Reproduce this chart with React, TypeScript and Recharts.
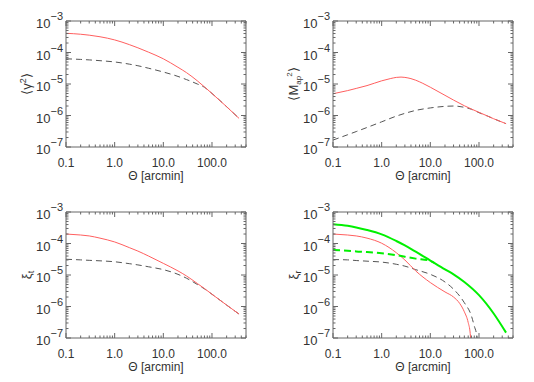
import React from "react";
import { LineChart, Line, XAxis, YAxis, Label } from "recharts";

type Pt = { x: number; y: number };

// theta [arcmin] samples and values
const thetaGamma = [0.1, 0.2, 0.3, 0.5, 1, 2, 3, 5, 10, 20, 30, 50, 70, 100, 200, 360];
const gammaSolid = [4.07e-4, 3.8e-4, 3.55e-4, 3.16e-4, 2.51e-4, 1.78e-4, 1.41e-4, 1.02e-4, 6.31e-5, 3.39e-5, 2.29e-5, 1.26e-5, 8.1e-6, 5.0e-6, 1.9e-6, 8.1e-7];
const gammaDashed = [6.31e-5, 6.03e-5, 5.82e-5, 5.5e-5, 5.01e-5, 4.27e-5, 3.8e-5, 3.16e-5, 2.4e-5, 1.74e-5, 1.38e-5, 1.0e-5, 7.9e-6, 5.0e-6, 1.9e-6, 8.1e-7];

const thetaMap = [0.1, 0.2, 0.3, 0.5, 1, 1.5, 2, 2.5, 3, 4, 5, 7, 10, 20, 30, 50, 100, 150, 200, 360];
const mapSolid = [4.9e-6, 6.17e-6, 7.24e-6, 8.9e-6, 1.26e-5, 1.48e-5, 1.62e-5, 1.66e-5, 1.62e-5, 1.48e-5, 1.32e-5, 1.05e-5, 7.9e-6, 4.37e-6, 3.09e-6, 2.04e-6, 1.26e-6, 9.6e-7, 7.9e-7, 5.5e-7];
const thetaMapDash = [0.1, 0.2, 0.3, 0.5, 1, 2, 3, 5, 10, 20, 30, 50, 70, 100, 150, 200, 360];
const mapDashed = [1.66e-7, 2.45e-7, 3.09e-7, 4.17e-7, 6.3e-7, 9.55e-7, 1.17e-6, 1.45e-6, 1.74e-6, 1.95e-6, 2.0e-6, 1.82e-6, 1.58e-6, 1.23e-6, 9.6e-7, 7.9e-7, 5.5e-7];

const thetaXit = [0.1, 0.2, 0.3, 0.5, 1, 2, 3, 5, 10, 20, 30, 50, 70, 100, 200, 360];
const xitSolid = [2.0e-4, 1.86e-4, 1.74e-4, 1.48e-4, 1.12e-4, 7.4e-5, 5.75e-5, 3.98e-5, 2.34e-5, 1.35e-5, 9.3e-6, 5.37e-6, 3.72e-6, 2.45e-6, 1.11e-6, 5.75e-7];
const xitDashed = [3.16e-5, 3.02e-5, 2.92e-5, 2.82e-5, 2.63e-5, 2.29e-5, 2.09e-5, 1.82e-5, 1.48e-5, 1.05e-5, 7.9e-6, 5.0e-6, 3.63e-6, 2.45e-6, 1.11e-6, 5.75e-7];

const thetaXirGreen = [0.1, 0.2, 0.3, 0.5, 1, 2, 3, 5, 10, 20, 30, 50, 100, 200, 360];
const xirGreen = [4.07e-4, 3.63e-4, 3.24e-4, 2.69e-4, 1.95e-4, 1.2e-4, 8.7e-5, 5.5e-5, 2.88e-5, 1.51e-5, 1.05e-5, 6.0e-6, 2.29e-6, 6.0e-7, 1.48e-7];
const thetaXirGreenDash = [0.1, 0.2, 0.3, 0.5, 1, 2, 3, 5, 10, 12];
const xirGreenDashed = [6.17e-5, 5.89e-5, 5.62e-5, 5.37e-5, 4.9e-5, 4.27e-5, 3.8e-5, 3.31e-5, 2.82e-5, 2.45e-5];
const thetaXirRed = [0.1, 0.2, 0.3, 0.5, 1, 2, 3, 5, 10, 20, 30, 40, 50, 60, 66, 70];
const xirRed = [2.0e-4, 1.86e-4, 1.74e-4, 1.48e-4, 1.02e-4, 5.1e-5, 3.0e-5, 1.35e-5, 5.75e-6, 2.9e-6, 2.0e-6, 1.26e-6, 6.8e-7, 3.1e-7, 1.4e-7, 4e-8];
const thetaXirDash = [0.1, 0.2, 0.3, 0.5, 1, 2, 3, 5, 10, 20, 30, 50, 70, 80, 90, 96];
const xirDashed = [3.09e-5, 3.02e-5, 2.88e-5, 2.75e-5, 2.57e-5, 2.19e-5, 1.91e-5, 1.48e-5, 1.05e-5, 6.0e-6, 3.55e-6, 1.32e-6, 5.0e-7, 2.4e-7, 1.2e-7, 5e-8];

// axes
const xMajor = [0.1, 1, 10, 100];
const xLabels = ["0.1", "1.0", "10.0", "100.0"];
const yMajor = [1e-7, 1e-6, 1e-5, 1e-4, 1e-3];
const yExp = ["\u22127", "\u22126", "\u22125", "\u22124", "\u22123"];
const minorMult = [2, 3, 4, 5, 6, 7, 8, 9];

const xTicks = [
  ...xMajor,
  ...[0.1, 1, 10, 100].flatMap((d) => minorMult.map((m) => m * d)).filter((v) => v <= 500),
];
const yTicks = [...yMajor, ...[1e-7, 1e-6, 1e-5, 1e-4].flatMap((d) => minorMult.map((m) => m * d))];

const W = 267;
const H = 191;
// plot box: x 66..246, y 21..147 ; axes are 1px wide so margins are 1px smaller
const M = { top: 20, right: 20, bottom: 43, left: 65 };
const FRAME = "#666";
const INK = "#333";
const FONT = "'Liberation Sans', Arial, sans-serif";
const RED = "#ff5f5f";
const DASH = "#555";
const GREEN = "#00f000";

const zip = (xs: number[], ys: number[]): Pt[] => xs.map((x, i) => ({ x, y: ys[i] }));

const XTick = (props: any) => {
  const { x, y, payload, side } = props;
  const mi = xMajor.indexOf(payload.value);
  const len = mi >= 0 ? 5 : 2.5;
  const d = side === "bottom" ? -len : len;
  return (
    <g>
      <line x1={x} x2={x} y1={y} y2={y + d} stroke={FRAME} />
      {side === "bottom" && mi >= 0 && (
        <text x={x} y={y + 20} textAnchor="middle" fill={INK} fontSize={12} fontFamily={FONT}>
          {xLabels[mi]}
        </text>
      )}
    </g>
  );
};

const YTick = (props: any) => {
  const { x, y, payload, side } = props;
  const mi = yMajor.indexOf(payload.value);
  const len = mi >= 0 ? 5 : 2.5;
  const d = side === "left" ? len : -len;
  return (
    <g>
      <line x1={x} x2={x + d} y1={y} y2={y} stroke={FRAME} />
      {side === "left" && mi >= 0 && (
        <text x={x - 3} y={y + 7} textAnchor="end" fill={INK} fontSize={13} fontFamily={FONT}>
          <tspan>10</tspan>
          <tspan dy={-8} fontSize={11}>{yExp[mi]}</tspan>
        </text>
      )}
    </g>
  );
};

const XTitle = (props: any) => {
  const vb = props.viewBox || { x: M.left + 1, y: H - M.bottom - 1, width: W - M.left - M.right - 2 };
  return (
    <text x={vb.x + vb.width / 2} y={vb.y + 33} textAnchor="middle" fill={INK} fontSize={12} fontFamily={FONT}>
      {"\u0398 [arcmin]"}
    </text>
  );
};

const YTitle = (kind: string) => (props: any) => {
  const vb = props.viewBox || { x: M.left, y: M.top + 1, height: H - M.top - M.bottom - 2 };
  const cx = vb.x - 34;
  const cy = vb.y + vb.height / 2;
  let body: React.ReactNode;
  if (kind === "gamma") {
    body = (
      <>
        <tspan>{"\u27e8\u03b3"}</tspan>
        <tspan dy={-5} fontSize={9}>2</tspan>
        <tspan dy={5}>{"\u27e9"}</tspan>
      </>
    );
  } else if (kind === "map") {
    body = (
      <>
        <tspan>{"\u27e8M"}</tspan>
        <tspan dy={3} fontSize={8}>ap</tspan>
        <tspan dy={-9} dx={-1} fontSize={8}>2</tspan>
        <tspan dy={6}>{"\u27e9"}</tspan>
      </>
    );
  } else {
    body = (
      <>
        <tspan>{"\u03be"}</tspan>
        <tspan dy={3} fontSize={9}>{kind === "t" ? "t" : "r"}</tspan>
      </>
    );
  }
  return (
    <text
      x={cx}
      y={cy}
      transform={`rotate(-90, ${cx}, ${cy})`}
      textAnchor="middle"
      fill={INK}
      fontSize={13}
      fontFamily={FONT}
    >
      {body}
    </text>
  );
};

type Series = { data: Pt[]; color: string; width: number; dash?: string };

function Panel({ series, title }: { series: Series[]; title: string }) {
  return (
    <LineChart width={W} height={H} margin={M}>
      <XAxis
        xAxisId="b"
        type="number"
        dataKey="x"
        scale="log"
        domain={[0.1, 500]}
        allowDataOverflow
        ticks={xTicks}
        interval={0}
        height={1}
        tickSize={0}
        tickMargin={0}
        tickLine={false}
        axisLine={{ stroke: FRAME }}
        tick={<XTick side="bottom" />}
        label={<Label content={XTitle} />}
      />
      <XAxis
        xAxisId="t"
        orientation="top"
        type="number"
        dataKey="x"
        scale="log"
        domain={[0.1, 500]}
        allowDataOverflow
        ticks={xTicks}
        interval={0}
        height={1}
        tickSize={0}
        tickMargin={0}
        tickLine={false}
        axisLine={{ stroke: FRAME }}
        tick={<XTick side="top" />}
      />
      <YAxis
        yAxisId="l"
        type="number"
        scale="log"
        domain={[1e-7, 1e-3]}
        allowDataOverflow
        ticks={yTicks}
        interval={0}
        width={1}
        tickSize={0}
        tickMargin={0}
        tickLine={false}
        axisLine={{ stroke: FRAME }}
        tick={<YTick side="left" />}
        label={<Label content={YTitle(title)} />}
      />
      <YAxis
        yAxisId="r"
        orientation="right"
        type="number"
        scale="log"
        domain={[1e-7, 1e-3]}
        allowDataOverflow
        ticks={yTicks}
        interval={0}
        width={1}
        tickSize={0}
        tickMargin={0}
        tickLine={false}
        axisLine={{ stroke: FRAME }}
        tick={<YTick side="right" />}
      />
      {series.map((s, i) => (
        <Line
          key={i}
          xAxisId="b"
          yAxisId="l"
          data={s.data}
          dataKey="y"
          type="monotone"
          stroke={s.color}
          strokeWidth={s.width}
          strokeDasharray={s.dash}
          dot={false}
          activeDot={false}
          isAnimationActive={false}
        />
      ))}
    </LineChart>
  );
}

const panels: { title: string; left: number; top: number; series: Series[] }[] = [
  {
    title: "gamma",
    left: 0,
    top: 0,
    series: [
      { data: zip(thetaGamma, gammaDashed), color: DASH, width: 1, dash: "6 4" },
      { data: zip(thetaGamma, gammaSolid), color: RED, width: 1 },
    ],
  },
  {
    title: "map",
    left: W,
    top: 0,
    series: [
      { data: zip(thetaMapDash, mapDashed), color: DASH, width: 1, dash: "6 4" },
      { data: zip(thetaMap, mapSolid), color: RED, width: 1 },
    ],
  },
  {
    title: "t",
    left: 0,
    top: H,
    series: [
      { data: zip(thetaXit, xitDashed), color: DASH, width: 1, dash: "6 4" },
      { data: zip(thetaXit, xitSolid), color: RED, width: 1 },
    ],
  },
  {
    title: "r",
    left: W,
    top: H,
    series: [
      { data: zip(thetaXirDash, xirDashed), color: DASH, width: 1, dash: "6 4" },
      { data: zip(thetaXirRed, xirRed), color: RED, width: 1 },
      { data: zip(thetaXirGreenDash, xirGreenDashed), color: GREEN, width: 2, dash: "7 4" },
      { data: zip(thetaXirGreen, xirGreen), color: GREEN, width: 2 },
    ],
  },
];

export default function App() {
  return (
    <div style={{ position: "absolute", left: 0, top: 0, width: 534, height: 382, background: "#fff" }}>
      {panels.map((p) => (
        <div key={p.title} style={{ position: "absolute", left: p.left, top: p.top }}>
          <Panel series={p.series} title={p.title} />
        </div>
      ))}
    </div>
  );
}
